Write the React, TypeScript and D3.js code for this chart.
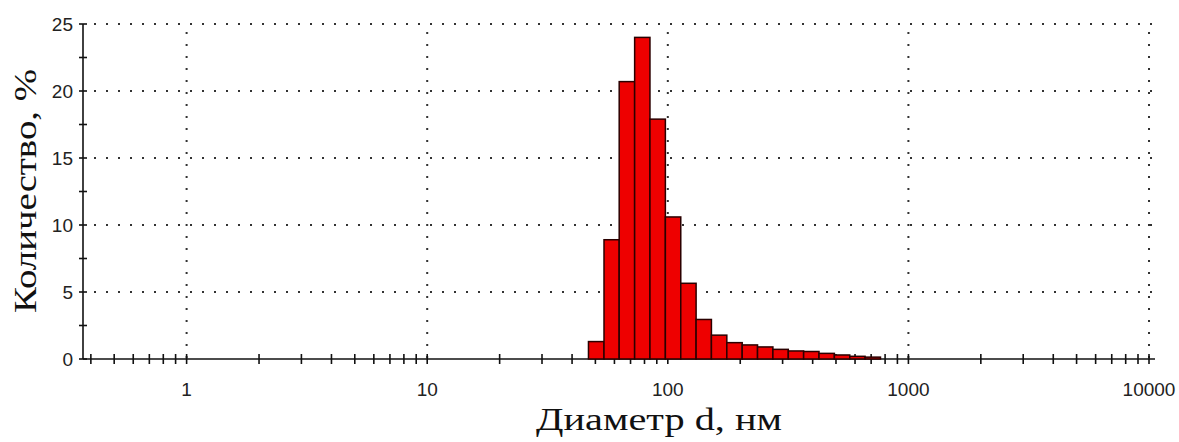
import React from "react";
import * as d3 from "d3";

// Particle size distribution (number-weighted), log-spaced bins in nm
const binEdges = [
  46.8, 54.3, 62.8, 72.8, 84.3, 97.7, 113.2, 131.1, 151.8, 175.9, 203.8,
  236.0, 273.4, 316.8, 366.9, 425.0, 492.4, 570.4, 660.7, 765.4,
];
const amounts = [
  1.3, 8.9, 20.7, 24.0, 17.9, 10.6, 5.65, 2.95, 1.78, 1.22, 1.05, 0.9, 0.72,
  0.6, 0.56, 0.42, 0.3, 0.2, 0.14,
];
const xMajorTicks = [1, 10, 100, 1000, 10000];
const yMajorTicks = [0, 5, 10, 15, 20, 25];
const yMinorTicks = [2.5, 7.5, 12.5, 17.5, 22.5];
const xDomain = [0.371, 10590];
const yDomain = [0, 25];
const xTitle = "Диаметр d, нм";
const yTitle = "Количество, %";

const W = 1179;
const H = 442;
const left = 83;
const right = 1155;
const top = 24;
const bottom = 359;

export default function App() {
  const x = d3.scaleLog().domain(xDomain).range([left, right]);
  const y = d3.scaleLinear().domain(yDomain).range([bottom, top]);

  // minor log ticks 2..9 within each decade that lies inside the axis
  const xMinorTicks: number[] = [];
  for (let dec = 0.1; dec <= 10000; dec *= 10) {
    for (let m = 2; m <= 9; m++) {
      const v = dec * m;
      if (v > xDomain[0] && v < xDomain[1]) xMinorTicks.push(v);
    }
  }

  const bins = amounts.map((v, i) => ({ x0: binEdges[i], x1: binEdges[i + 1], v }));

  const gridColor = "#333";
  const axisColor = "#111";
  const tickFont = "'Liberation Sans', Arial, sans-serif";
  const titleFont = "'Liberation Serif', 'Times New Roman', serif";

  return (
    <svg
      width={W}
      height={H}
      style={{ position: "absolute", left: 0, top: 0, display: "block", background: "#fff" }}
    >
      {/* dotted grid */}
      <g stroke={gridColor} strokeWidth={2} strokeDasharray="2 10" fill="none">
        {yMajorTicks
          .filter((t) => t > 0)
          .map((t) => (
            <line key={"hy" + t} x1={left + 11} x2={x(10000) + 4} y1={y(t)} y2={y(t)} />
          ))}
        {xMajorTicks.map((t) => (
          <line key={"vx" + t} x1={x(t)} x2={x(t)} y1={top + 8} y2={bottom} />
        ))}
      </g>

      {/* axes */}
      <g stroke={axisColor} strokeWidth={1.6}>
        <line x1={left} x2={left} y1={top} y2={bottom} />
        <line x1={left} x2={right} y1={bottom} y2={bottom} />
        {[...yMajorTicks, ...yMinorTicks].map((t) => (
          <line key={"ty" + t} x1={left - 4} x2={left + 4} y1={y(t)} y2={y(t)} />
        ))}
        {[...xMajorTicks, ...xMinorTicks].map((t) => (
          <line key={"tx" + t} x1={x(t)} x2={x(t)} y1={bottom - 5} y2={bottom + 5} />
        ))}
      </g>

      {/* histogram bars */}
      <g fill="#ee0000" stroke="#2a0000" strokeWidth={1.5}>
        {bins.map((b, i) => (
          <rect
            key={i}
            x={x(b.x0)}
            y={y(b.v)}
            width={x(b.x1) - x(b.x0)}
            height={y(0) - y(b.v)}
          />
        ))}
      </g>

      {/* tick labels */}
      <g fontFamily={tickFont} fontSize={19} fill="#222">
        {yMajorTicks.map((t) => (
          <text key={"ly" + t} x={73} y={y(t)} textAnchor="end" dominantBaseline="central">
            {t}
          </text>
        ))}
        {xMajorTicks.map((t) => (
          <text key={"lx" + t} x={x(t)} y={396} textAnchor="middle">
            {t}
          </text>
        ))}
      </g>

      {/* axis titles */}
      <text
        x={659}
        y={430}
        textAnchor="middle"
        fontFamily={titleFont}
        fontSize={31}
        textLength={246}
        lengthAdjust="spacingAndGlyphs"
        fill="#111"
      >
        {xTitle}
      </text>
      <text
        transform="translate(36,191) rotate(-90)"
        textAnchor="middle"
        fontFamily={titleFont}
        fontSize={31}
        textLength={244}
        lengthAdjust="spacingAndGlyphs"
        fill="#111"
      >
        {yTitle}
      </text>
    </svg>
  );
}
